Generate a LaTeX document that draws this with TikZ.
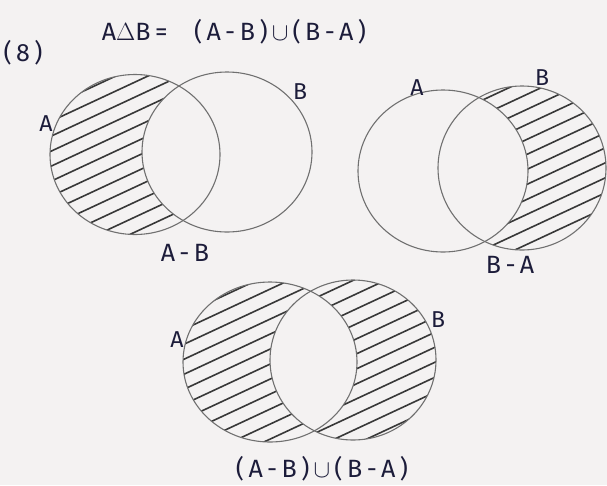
\documentclass[tikz,border=0pt]{standalone}
\usepackage{fontspec}
\setmainfont{Fira Sans}
\usetikzlibrary{positioning}
\definecolor{paper}{HTML}{F4F2F2}
\definecolor{pencil}{HTML}{707070}
\definecolor{hatchgray}{HTML}{383838}
\definecolor{ink}{HTML}{1C1C3A}
\tikzset{
  setline/.style={draw=pencil,line width=1.1pt},
  hatchline/.style={draw=hatchgray,line width=1.6pt,line cap=round},
  setname/.style={font=\fontsize{23}{24}\selectfont,text=ink,inner sep=1pt},
  caption/.style={font=\fontsize{25}{27}\selectfont\addfontfeature{LetterSpace=18},text=ink,inner sep=1pt}
}
\newcommand{\hatchall}{\foreach \k in {40,55,...,780}{\draw[hatchline] (0,\k)--(650,\k-303);}}

\begin{document}
\begin{tikzpicture}[x=1pt,y=-1pt]
\fill[paper] (0,0) rectangle (607,485);
\useasboundingbox (0,0) rectangle (607,485);
% heading
\node[caption] (num) at (23,53) {(8)};
\node[caption] (title) at (234,32) {A\(\Delta\)B= \ \,(A-B)\,\(\cup\)\,(B-A)};
% centres of the sets
\coordinate (A1) at (135,154.5);
\coordinate (B1) at (227,152);
\coordinate (A2) at (443,171);
\coordinate (B2) at (522,168);
\coordinate (A3) at (270,362);
\coordinate (B3) at (353,360);
% A-B
\begin{scope}[even odd rule]
  \clip (A1) ellipse [x radius=85,y radius=80];
  \clip (-10,-10) rectangle (620,500) (B1) ellipse [x radius=85,y radius=80];
  \hatchall
\end{scope}
\draw[setline] (A1) ellipse [x radius=85,y radius=80];
\draw[setline] (B1) ellipse [x radius=85,y radius=80];
\node[setname] (a1) at (46,124) {A};
\node[setname] (b1) at (300,92) {B};
\node[caption] (capAB) at (185,253) {A-B};
% B-A
\begin{scope}[even odd rule]
  \clip (B2) ellipse [x radius=84,y radius=82];
  \clip (-10,-10) rectangle (620,500) (A2) ellipse [x radius=85,y radius=81];
  \hatchall
\end{scope}
\draw[setline] (A2) ellipse [x radius=85,y radius=81];
\draw[setline] (B2) ellipse [x radius=84,y radius=82];
\node[setname] (a2) at (417,88) {A};
\node[setname] (b2) at (542,78) {B};
\node[caption] (capBA) at (510,265) {B-A};
% (A-B) u (B-A)
\begin{scope}[even odd rule]
  \clip (A3) ellipse [x radius=87,y radius=80] (B3) ellipse [x radius=83,y radius=80];
  \hatchall
\end{scope}
\draw[setline] (A3) ellipse [x radius=87,y radius=80];
\draw[setline] (B3) ellipse [x radius=83,y radius=80];
\node[setname] (a3) at (177,340) {A};
\node[setname] (b3) at (438,320) {B};
\node[caption] (capSym) at (322,469) {(A-B)\,\(\cup\)\,(B-A)};
\end{tikzpicture}
\end{document}
